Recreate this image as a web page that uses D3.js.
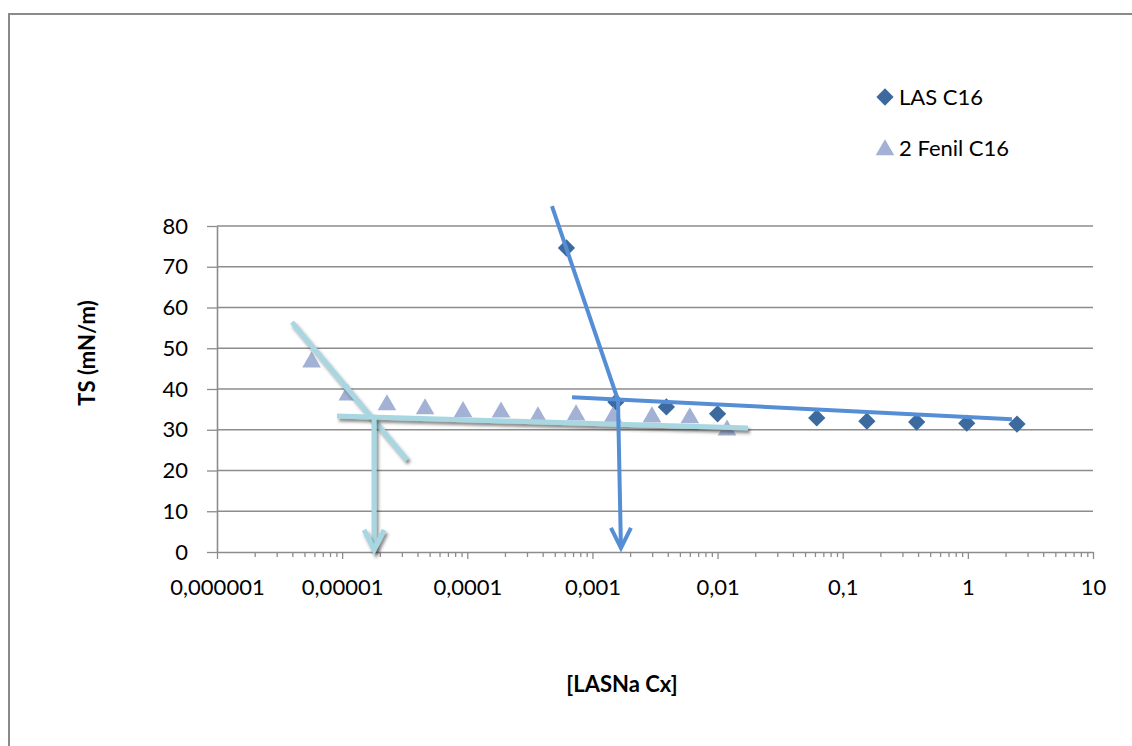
<!DOCTYPE html>
<html>
<head>
<meta charset="utf-8">
<script src="https://cdn.jsdelivr.net/npm/d3@7"></script>
<style>
  body { margin: 0; background: #fff; }
  text { font-family: Lato, "Open Sans", sans-serif; fill: #000; }
</style>
</head>
<body>
<div id="svg-container"></div>
<script>
////////////////////////////////////////////////////////////////////
////////////////////////////  Data  ////////////////////////////////
const lasX = [0.00062, 0.00154, 0.0039, 0.0100, 0.062, 0.156, 0.39, 0.98, 2.47];
const lasY = [74.6, 36.8, 35.6, 33.9, 32.9, 32.1, 31.9, 31.6, 31.4];

const fenilX = [0.0000057, 0.0000111, 0.0000228, 0.000046, 0.0000925, 0.000186,
  0.000367, 0.00074, 0.00146, 0.00299, 0.0060, 0.0119];
const fenilY = [46.6, 38.5, 36.1, 35.1, 34.4, 34.3, 33.1, 33.6, 33.1, 33.1, 32.9, 29.9];

// hand drawn trend lines (in data units: [x, y] pairs)
const fenilSteep = [[0.00000397, 56.4], [0.000033, 22.6]];
const fenilFlat = [[0.0000091, 33.4], [0.0175, 30.4]];
const fenilArrow = [[0.000018, 32.9], [0.000018, 0.5]];
const lasSteep = [[0.000475, 84.9], [0.0016, 37.3]];
const lasFlat = [[0.000687, 38.0], [2.25, 32.6]];
const lasArrow = [[0.0016, 37.3], [0.00169, 1.0]];

const xTicks = [0.000001, 0.00001, 0.0001, 0.001, 0.01, 0.1, 1, 10];
const xTickLabels = ["0,000001", "0,00001", "0,0001", "0,001", "0,01", "0,1", "1", "10"];
const yTicks = [0, 10, 20, 30, 40, 50, 60, 70, 80];

const seriesNames = ["LAS C16", "2 Fenil C16"];

////////////////////////////////////////////////////////////////////
////////////////////////////  Init  ////////////////////////////////
const width = 1132;
const height = 746;
const margin = { top: 226, right: 39, bottom: 194, left: 217 };

const svg = d3.select("#svg-container").append("svg")
  .attr("width", width).attr("height", height);

// drop shadow for the light lines (user space so vertical lines keep it)
const defs = svg.append("defs");
const shadow = defs.append("filter").attr("id", "shadow")
  .attr("filterUnits", "userSpaceOnUse")
  .attr("x", 0).attr("y", 0).attr("width", width).attr("height", height);
shadow.append("feDropShadow")
  .attr("dx", 2).attr("dy", 3).attr("stdDeviation", 1.5)
  .attr("flood-color", "#333").attr("flood-opacity", 0.55);

// chart border
svg.append("rect")
  .attr("x", 9).attr("y", 14)
  .attr("width", width + 20).attr("height", height + 20)
  .attr("fill", "none").attr("stroke", "#8a8a8a").attr("stroke-width", 2);

// scales
const xScale = d3.scaleLog()
  .domain([1e-6, 10])
  .range([margin.left, width - margin.right]);
const yScale = d3.scaleLinear()
  .domain([0, 80])
  .range([height - margin.bottom, margin.top]);

// gridlines
svg.append("g")
  .selectAll("line")
  .data(yTicks.filter((d) => d > 0))
  .join("line")
  .attr("x1", xScale(1e-6)).attr("x2", xScale(10))
  .attr("y1", (d) => yScale(d)).attr("y2", (d) => yScale(d))
  .attr("stroke", "#8c8c8c").attr("stroke-width", 1.6);

// x axis, minor ticks
const minorTicks = [];
xTicks.slice(0, -1).forEach((t) => {
  for (let k = 2; k <= 9; k++) minorTicks.push(t * k);
});
const xMinor = svg.append("g")
  .attr("transform", `translate(0,${yScale(0)})`)
  .call(d3.axisBottom(xScale).tickValues(minorTicks).tickSize(5).tickFormat(""));
xMinor.select(".domain").remove();
xMinor.selectAll("line").attr("stroke", "#8c8c8c").attr("stroke-width", 1.3);

// x axis, major ticks
const xAxis = svg.append("g")
  .attr("transform", `translate(0,${yScale(0)})`)
  .call(d3.axisBottom(xScale)
    .tickValues(xTicks)
    .tickSize(7)
    .tickSizeOuter(0)
    .tickPadding(20)
    .tickFormat((d, i) => xTickLabels[i]));
xAxis.select(".domain").attr("stroke", "#8c8c8c").attr("stroke-width", 1.6);
xAxis.selectAll("line").attr("stroke", "#8c8c8c").attr("stroke-width", 1.3);
xAxis.selectAll("text").style("font-size", "22px").attr("fill", "#000");

// y axis
const yAxis = svg.append("g")
  .attr("transform", `translate(${margin.left},0)`)
  .call(d3.axisLeft(yScale)
    .tickValues(yTicks)
    .tickSize(10)
    .tickSizeOuter(0)
    .tickPadding(19));
yAxis.select(".domain").attr("stroke", "#8c8c8c").attr("stroke-width", 1.6);
yAxis.selectAll("line").attr("stroke", "#8c8c8c").attr("stroke-width", 1.3);
yAxis.selectAll("text").style("font-size", "22px").attr("fill", "#000");

// axis titles
svg.append("text")
  .attr("transform", `translate(95,${(yScale(0) + yScale(80)) / 2 - 36}) rotate(-90)`)
  .attr("text-anchor", "middle")
  .style("font-size", "22px").style("font-weight", "bold")
  .text("TS (mN/m)");

svg.append("text")
  .attr("x", 622).attr("y", 692)
  .attr("text-anchor", "middle")
  .style("font-size", "22px").style("font-weight", "bold")
  .text("[LASNa Cx]");

////////////////////////////////////////////////////////////////////
////////////////////////////  Marks  ///////////////////////////////
const diamondColor = "#3c6a9e";
const triangleColor = "#a2b1d4";
const diamond = d3.symbol().type(d3.symbolDiamond2).size(190);
const triangle = d3.symbol().type(d3.symbolTriangle).size(150);

svg.append("g")
  .selectAll("path")
  .data(lasX.map((x, i) => [x, lasY[i]]))
  .join("path")
  .attr("transform", (d) => `translate(${xScale(d[0])},${yScale(d[1])})`)
  .attr("d", diamond)
  .attr("fill", diamondColor);

svg.append("g")
  .selectAll("path")
  .data(fenilX.map((x, i) => [x, fenilY[i]]))
  .join("path")
  .attr("transform", (d) => `translate(${xScale(d[0])},${yScale(d[1])})`)
  .attr("d", triangle)
  .attr("fill", triangleColor);

// trend lines
const line = d3.line()
  .x((d) => xScale(d[0]))
  .y((d) => yScale(d[1]));

const cyan = "#a9d7e1";
const blue = "#558ed5";

function drawLine(pts, color, w, withShadow) {
  const p = svg.append("path")
    .datum(pts)
    .attr("d", line)
    .attr("fill", "none")
    .attr("stroke", color)
    .attr("stroke-width", w);
  if (withShadow) p.attr("filter", "url(#shadow)");
  return p;
}

function drawArrow(pts, color, w, withShadow) {
  drawLine(pts, color, w, withShadow);
  const tip = pts[pts.length - 1];
  const tx = xScale(tip[0]);
  const ty = yScale(tip[1]);
  const p = svg.append("path")
    .attr("d", `M${tx - 10},${ty - 20}L${tx},${ty}L${tx + 10},${ty - 20}`)
    .attr("fill", "none")
    .attr("stroke", color)
    .attr("stroke-width", w)
    .attr("stroke-linejoin", "miter");
  if (withShadow) p.attr("filter", "url(#shadow)");
}

drawLine(fenilSteep, cyan, 5, true);
drawLine(fenilFlat, cyan, 5, true);
drawArrow(fenilArrow, cyan, 5, true);

drawLine(lasSteep, blue, 4, false);
drawLine(lasFlat, blue, 4, false);
drawArrow(lasArrow, blue, 4, false);

////////////////////////////////////////////////////////////////////
////////////////////////////  Legend  //////////////////////////////
const legend = svg.append("g").attr("transform", "translate(885,97)");
const legendItems = legend.selectAll("g")
  .data(seriesNames)
  .join("g")
  .attr("transform", (d, i) => `translate(0,${i * 51})`);

legendItems.append("path")
  .attr("d", (d, i) => (i === 0 ? diamond : triangle)())
  .attr("transform", (d, i) => (i === 0 ? "" : "translate(0,2)"))
  .attr("fill", (d, i) => (i === 0 ? diamondColor : triangleColor));

legendItems.append("text")
  .attr("x", 14)
  .attr("dy", "0.35em")
  .style("font-size", "22px")
  .text((d) => d);
</script>
</body>
</html>
